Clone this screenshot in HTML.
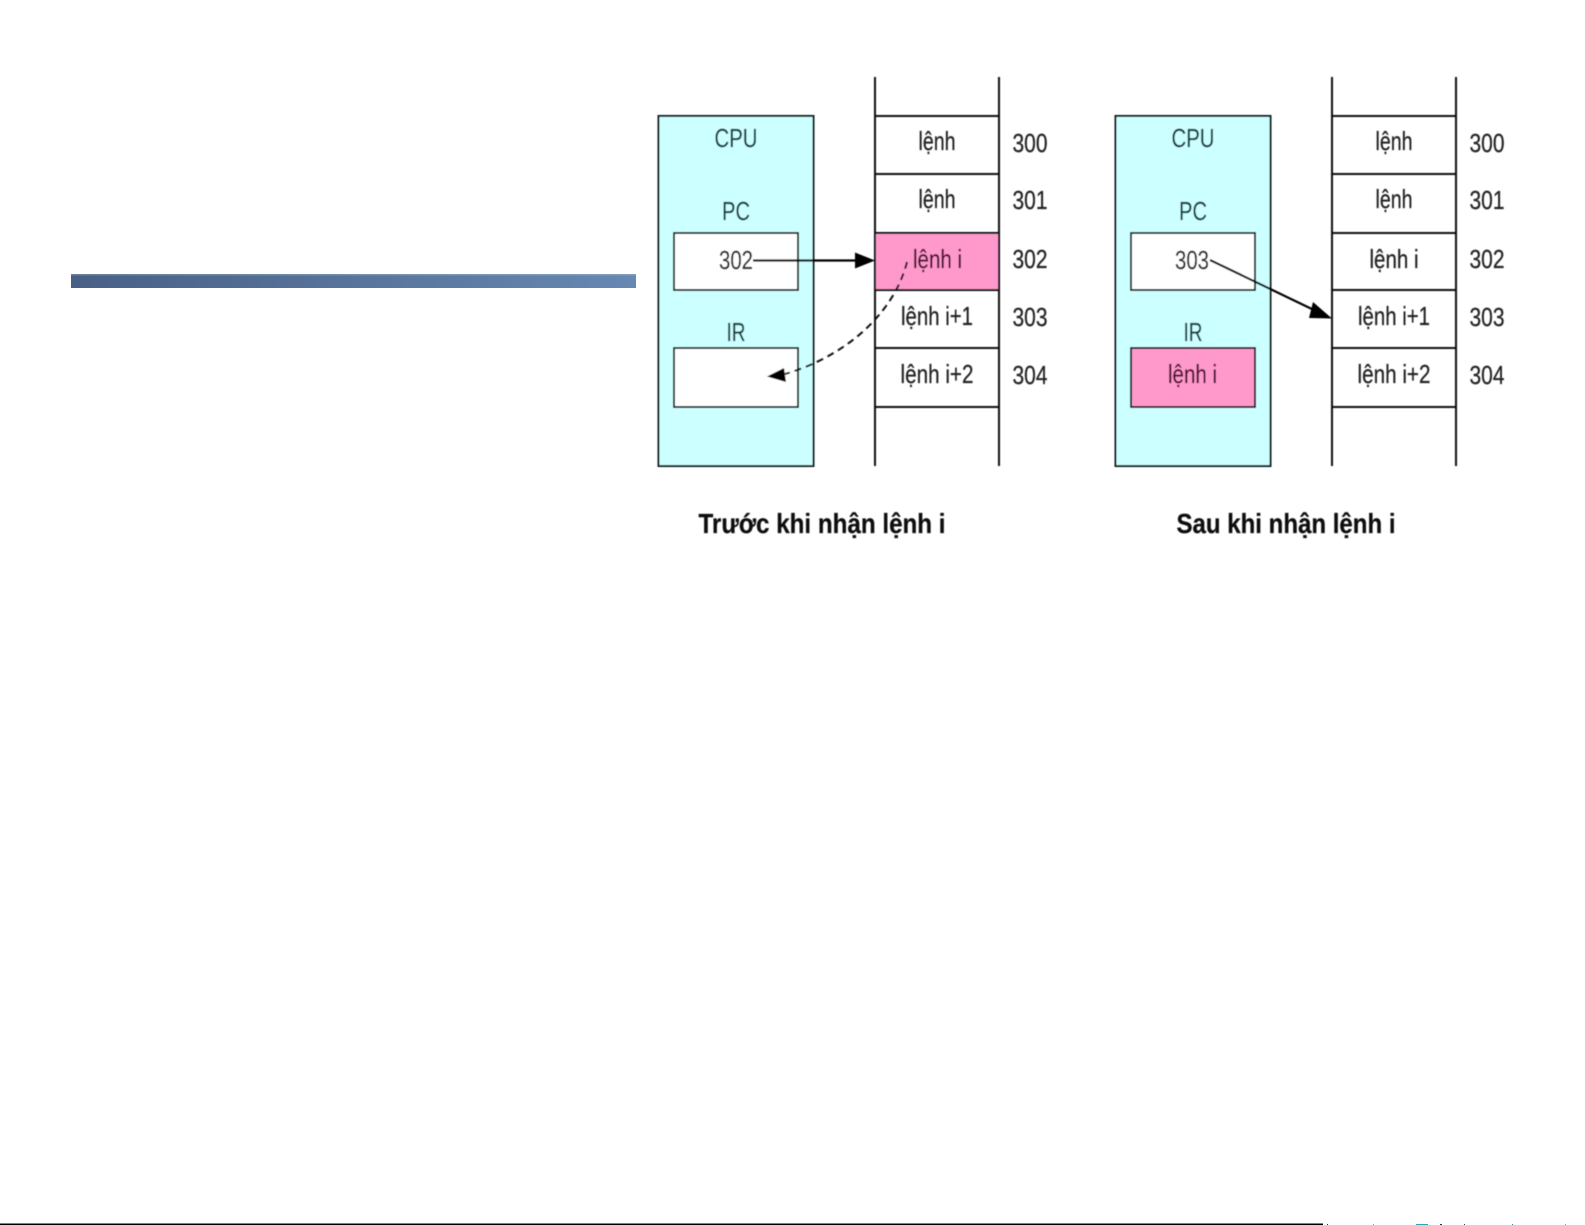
<!DOCTYPE html>
<html lang="vi">
<head>
<meta charset="utf-8">
<title>Trước khi nhận lệnh i / Sau khi nhận lệnh i</title>
<style>
html,body{margin:0;padding:0;background:#fff;width:1585px;height:1225px;overflow:hidden}
svg{display:block}
text{font-family:"Liberation Sans",Arial,sans-serif;fill:#222;stroke:#222;stroke-width:.25px;font-size:26px;text-anchor:middle}
.cap{font-weight:bold;font-size:28px;fill:#111;stroke:#111}
.teal{fill:#12393b;stroke:#12393b}
.mag{fill:#4a0c30;stroke:#4a0c30}
.box{stroke:#0d1a1a;stroke-width:2}
.ln{stroke:#0c0c0c;stroke-width:2;fill:none}
</style>
</head>
<body>
<svg width="1585" height="1225" viewBox="0 0 1585 1225" xmlns="http://www.w3.org/2000/svg">
<defs>
<linearGradient id="bar" x1="0" x2="1" y1="0" y2="0">
<stop offset="0" stop-color="#486085"/>
<stop offset="1" stop-color="#6688b2"/>
</linearGradient>
<filter id="soft" x="-5%" y="-5%" width="110%" height="110%"><feGaussianBlur stdDeviation="0.4"/></filter>
<g id="mem">
<path class="ln" d="M875 77V466M999 77V466M875 116H999M875 174H999M875 233H999M875 290H999M875 348H999M875 407H999"/>
</g>
<g id="cpu">
<rect class="box" x="658.5" y="116" width="155" height="350" fill="#ccffff"/>
</g>
</defs>

<rect x="71" y="274" width="565" height="14" fill="url(#bar)"/>
<rect x="71" y="274" width="565" height="1.5" fill="#fff" opacity=".2"/>

<g filter="url(#soft)">
<!-- Left panel -->
<use href="#cpu"/>
<rect x="875" y="233" width="124" height="57" fill="#ff99cc"/>
<use href="#mem"/>
<rect class="box" x="674" y="233" width="124" height="57" fill="#fff"/>
<rect class="box" x="674" y="348" width="124" height="59" fill="#fff"/>
<text class="teal" x="736" y="147" textLength="43" lengthAdjust="spacingAndGlyphs">CPU</text>
<text class="teal" x="736" y="220" textLength="28" lengthAdjust="spacingAndGlyphs">PC</text>
<text x="736" y="269" textLength="34" lengthAdjust="spacingAndGlyphs">302</text>
<text class="teal" x="736" y="341" textLength="19" lengthAdjust="spacingAndGlyphs">IR</text>
<text x="937" y="150" textLength="37" lengthAdjust="spacingAndGlyphs">lệnh</text>
<text x="937" y="208" textLength="37" lengthAdjust="spacingAndGlyphs">lệnh</text>
<text class="mag" x="937.5" y="268" textLength="49" lengthAdjust="spacingAndGlyphs">lệnh i</text>
<text x="937" y="325" textLength="72" lengthAdjust="spacingAndGlyphs">lệnh i+1</text>
<text x="937" y="383" textLength="73" lengthAdjust="spacingAndGlyphs">lệnh i+2</text>
<text x="1030" y="152" textLength="35" lengthAdjust="spacingAndGlyphs">300</text>
<text x="1030" y="209" textLength="35" lengthAdjust="spacingAndGlyphs">301</text>
<text x="1030" y="268" textLength="35" lengthAdjust="spacingAndGlyphs">302</text>
<text x="1030" y="326" textLength="35" lengthAdjust="spacingAndGlyphs">303</text>
<text x="1030" y="384" textLength="35" lengthAdjust="spacingAndGlyphs">304</text>
<text class="cap" x="822" y="533" textLength="247" lengthAdjust="spacingAndGlyphs">Trước khi nhận lệnh i</text>
<path d="M753 260.5H858" stroke="#000" stroke-width="2.2" fill="none"/>
<path d="M875 260.5L855 252.5V268.5Z" fill="#000"/>
<path d="M907 262C895 310 850 355 785 374" stroke="#111" stroke-width="2" stroke-dasharray="7 5" fill="none"/>
<path d="M767 376.5L784 368L786 382Z" fill="#000"/>

<!-- Right panel -->
<use href="#cpu" x="457"/>
<use href="#mem" x="457"/>
<rect class="box" x="1131" y="233" width="124" height="57" fill="#fff"/>
<rect class="box" x="1131" y="348" width="124" height="59" fill="#ff99cc"/>
<text class="teal" x="1193" y="147" textLength="43" lengthAdjust="spacingAndGlyphs">CPU</text>
<text class="teal" x="1193" y="220" textLength="28" lengthAdjust="spacingAndGlyphs">PC</text>
<text x="1192" y="269" textLength="34" lengthAdjust="spacingAndGlyphs">303</text>
<text class="teal" x="1193" y="341" textLength="19" lengthAdjust="spacingAndGlyphs">IR</text>
<text class="mag" x="1192.5" y="383" textLength="49" lengthAdjust="spacingAndGlyphs">lệnh i</text>
<text x="1394" y="150" textLength="37" lengthAdjust="spacingAndGlyphs">lệnh</text>
<text x="1394" y="208" textLength="37" lengthAdjust="spacingAndGlyphs">lệnh</text>
<text x="1394" y="268" textLength="49" lengthAdjust="spacingAndGlyphs">lệnh i</text>
<text x="1394" y="325" textLength="72" lengthAdjust="spacingAndGlyphs">lệnh i+1</text>
<text x="1394" y="383" textLength="73" lengthAdjust="spacingAndGlyphs">lệnh i+2</text>
<text x="1487" y="152" textLength="35" lengthAdjust="spacingAndGlyphs">300</text>
<text x="1487" y="209" textLength="35" lengthAdjust="spacingAndGlyphs">301</text>
<text x="1487" y="268" textLength="35" lengthAdjust="spacingAndGlyphs">302</text>
<text x="1487" y="326" textLength="35" lengthAdjust="spacingAndGlyphs">303</text>
<text x="1487" y="384" textLength="35" lengthAdjust="spacingAndGlyphs">304</text>
<text class="cap" x="1286" y="533" textLength="219" lengthAdjust="spacingAndGlyphs">Sau khi nhận lệnh i</text>
<path d="M1210 260L1316 311" stroke="#000" stroke-width="2.2" fill="none"/>
<path d="M1332 318.5L1313 302L1309 318Z" fill="#000"/>
</g>

<!-- Bottom rule -->
<rect x="0" y="1223.5" width="1323" height="1.5" fill="#000"/>
<rect x="1327" y="1224" width="1" height="1" fill="#333"/>
<rect x="1373" y="1224" width="1" height="1" fill="#c9a030"/>
<rect x="1416" y="1224" width="12" height="1" fill="#2aa7c0"/>
<rect x="1440" y="1224" width="2" height="1" fill="#333"/>
<rect x="1464" y="1224" width="1" height="1" fill="#444"/>
<rect x="1512" y="1224" width="1" height="1" fill="#2a8aa0"/>
<rect x="1565" y="1224" width="1" height="1" fill="#c9a030"/>
</svg>
</body>
</html>
